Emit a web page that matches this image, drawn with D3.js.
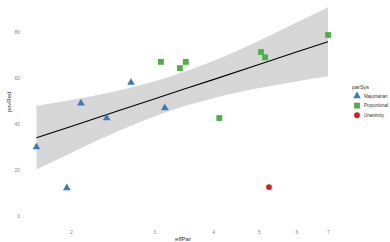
<!DOCTYPE html>
<html>
<head>
<meta charset="utf-8">
<script src="https://cdn.jsdelivr.net/npm/d3@7"></script>
<style>
  body { margin: 0; background: #fff; }
  text { font-family: "Liberation Sans", Arial, sans-serif; }
</style>
</head>
<body>
<div id="chart"></div>
<script>
// points (effPar on a log axis)
var majX = [1.69, 1.96, 2.10, 2.38, 2.68, 3.16];
var majY = [30, 12.2, 49, 42.6, 58, 47];
var proX = [3.10, 3.40, 3.50, 4.12, 5.05, 5.15, 7.0];
var proY = [67, 64.3, 67, 42.6, 71.3, 69, 78.7];
var unaX = [5.25];
var unaY = [12.6];

// smoother line + confidence band
var fitX  = [1.69, 2, 2.5, 3, 3.5, 4, 5, 6, 7];
var fitY  = [34.0, 38.9, 45.5, 50.9, 55.4, 59.3, 65.9, 71.3, 75.8];
var fitLo = [20.2, 27.4, 36.6, 43.3, 47.9, 51.2, 55.6, 58.5, 60.8];
var fitHi = [47.9, 50.4, 54.4, 58.5, 62.9, 67.4, 76.2, 84.1, 90.8];

var xTicks = [2, 3, 4, 5, 6, 7];
var yTicks = [0, 20, 40, 60, 80];
var groups = ["Majoritarian", "Proportional", "Unanimity"];
var colors = ["#377eb8", "#4daf4a", "#e41a1c"];

var width = 390, height = 242;

var svg = d3.select("#chart").append("svg")
    .attr("width", width)
    .attr("height", height);

var x = d3.scaleLog().domain([2, 7]).range([71, 328]);
var y = d3.scaleLinear().domain([0, 80]).range([216, 32]);

// band
var band = fitX.map(function(d, i) { return [d, fitLo[i], fitHi[i]]; });
svg.append("path")
    .datum(band)
    .attr("fill", "#d7d7d7")
    .attr("d", d3.area()
      .x(function(d) { return x(d[0]); })
      .y0(function(d) { return y(d[1]); })
      .y1(function(d) { return y(d[2]); })
      .curve(d3.curveMonotoneX));

svg.append("path")
    .datum(fitX.map(function(d, i) { return [d, fitY[i]]; }))
    .attr("fill", "none")
    .attr("stroke", "#000")
    .attr("stroke-width", 1.1)
    .attr("d", d3.line()
      .x(function(d) { return x(d[0]); })
      .y(function(d) { return y(d[1]); }));

// axes (no lines, only labels)
var yAxis = svg.append("g")
    .attr("transform", "translate(20,0)")
    .call(d3.axisLeft(y).tickValues(yTicks).tickSize(0).tickPadding(0));
var xAxis = svg.append("g")
    .attr("transform", "translate(0,230)")
    .call(d3.axisBottom(x).tickValues(xTicks).tickFormat(d3.format("d")).tickSize(0).tickPadding(0));
svg.selectAll(".domain").remove();
svg.selectAll(".tick text")
    .attr("fill", "#8a8a8a")
    .style("font-size", "5px");

svg.append("text")
    .attr("transform", "translate(11,102) rotate(-90)")
    .attr("text-anchor", "middle")
    .attr("fill", "#333")
    .style("font-size", "6px")
    .text("povRed");

svg.append("text")
    .attr("x", 183)
    .attr("y", 241)
    .attr("text-anchor", "middle")
    .attr("fill", "#333")
    .style("font-size", "6px")
    .text("effPar");

// points
var tri = d3.symbol().type(d3.symbolTriangle).size(26);
var sq = d3.symbol().type(d3.symbolSquare).size(34);
var circ = d3.symbol().type(d3.symbolCircle).size(26);

svg.selectAll(".maj")
    .data(majX)
    .enter().append("path")
    .attr("class", "maj")
    .attr("d", tri)
    .attr("fill", colors[0])
    .attr("transform", function(d, i) { return "translate(" + x(d) + "," + y(majY[i]) + ")"; });

svg.selectAll(".pro")
    .data(proX)
    .enter().append("path")
    .attr("class", "pro")
    .attr("d", sq)
    .attr("fill", colors[1])
    .attr("transform", function(d, i) { return "translate(" + x(d) + "," + y(proY[i]) + ")"; });

svg.selectAll(".una")
    .data(unaX)
    .enter().append("path")
    .attr("class", "una")
    .attr("d", circ)
    .attr("fill", colors[2])
    .attr("transform", function(d, i) { return "translate(" + x(d) + "," + y(unaY[i]) + ")"; });

// legend
var leg = svg.append("g").attr("transform", "translate(351,0)");
leg.append("text")
    .attr("x", 1)
    .attr("y", 89)
    .attr("fill", "#333")
    .style("font-size", "5.5px")
    .text("parSys");

var shapes = [tri, sq, circ];
groups.forEach(function(g, i) {
  var cy = 96 + i * 9.6;
  leg.append("path")
      .attr("d", shapes[i])
      .attr("fill", colors[i])
      .attr("transform", "translate(6," + cy + ")");
  leg.append("text")
      .attr("x", 13)
      .attr("y", cy + 1.8)
      .attr("fill", "#333")
      .style("font-size", "4.5px")
      .text(g);
});
</script>
</body>
</html>
